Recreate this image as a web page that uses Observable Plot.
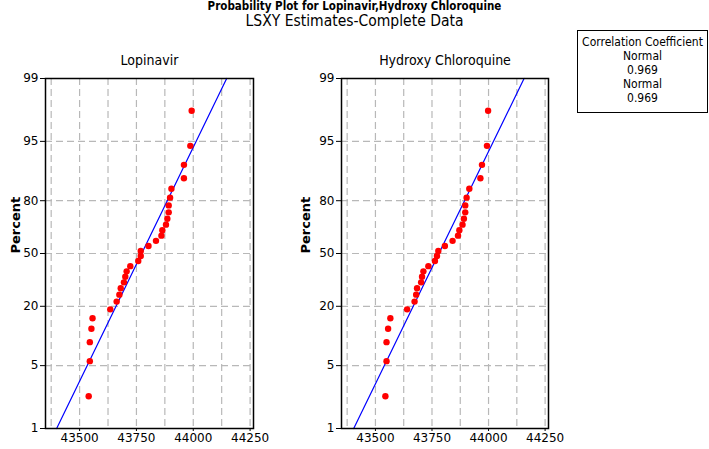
<!DOCTYPE html>
<html>
<head>
<meta charset="utf-8">
<script src="https://cdn.jsdelivr.net/npm/d3@7"></script>
<script src="https://cdn.jsdelivr.net/npm/@observablehq/plot@0.6"></script>
<style>
  html, body { margin: 0; padding: 0; background: #fff; }
  #root { position: relative; width: 709px; height: 449px; overflow: hidden; font-family: "Liberation Sans Narrow", "DejaVu Sans Condensed", sans-serif; }
  .abs { position: absolute; }
  #title { left: 0; width: 709px; top: 0px; text-align: center; font-weight: bold; font-size: 11.5px; line-height: 12px; }
  #subtitle { left: 0; width: 709px; top: 13px; text-align: center; font-size: 15.5px; line-height: 16px; }
  #legend { left: 577px; top: 30px; width: 131px; height: 83px; border: 1px solid #000; text-align: center; font-size: 12px; line-height: 14px; padding-top: 4px; box-sizing: border-box; }
  .panel svg { overflow: visible; }
</style>
</head>
<body>
<div id="root">
  <div id="title" class="abs">Probability Plot for Lopinavir,Hydroxy Chloroquine</div>
  <div id="subtitle" class="abs">LSXY Estimates-Complete Data</div>
  <div id="legend" class="abs">Correlation Coefficient<br>Normal<br>0.969<br>Normal<br>0.969</div>
  <div id="p1" class="abs panel" style="left:0px; top:40px;"></div>
  <div id="p2" class="abs panel" style="left:296px; top:40px;"></div>
</div>
<script>
// Plotting positions (percent), shared by both samples
const percents = [2.30, 5.59, 8.88, 12.17, 15.46, 18.75, 22.04, 25.33, 28.62, 31.91,
  35.20, 38.49, 41.78, 45.07, 48.36, 51.64, 54.93, 58.22, 61.51, 64.80,
  68.09, 71.38, 74.67, 77.96, 81.25, 84.54, 87.83, 91.12, 94.41, 97.70];
// Lopinavir values
const lopinavir = [43540, 43545, 43545, 43552, 43557, 43635, 43663, 43675, 43681, 43695,
  43701, 43707, 43723, 43758, 43769, 43769, 43803, 43836, 43860, 43864,
  43880, 43886, 43892, 43892, 43898, 43904, 43959, 43959, 43987, 43993];
// Hydroxy Chloroquine values
const hcq = [43544, 43549, 43549, 43556, 43566, 43640, 43673, 43680, 43684, 43702,
  43706, 43712, 43734, 43763, 43772, 43778, 43807, 43841, 43865, 43871,
  43885, 43891, 43897, 43897, 43903, 43915, 43964, 43971, 43993, 43998];
// Fitted lines (endpoints at 1% and 99%)
const fitPercents = [1, 99];
const lopinavirFit = [43399, 44147];
const hcqFit = [43404, 44157];
// Axis ticks
const xTicks = [43500, 43750, 44000, 44250];
const xGrid = [43375, 43500, 43625, 43750, 43875, 44000, 44125, 44250];
const yTicks = [1, 5, 20, 50, 80, 95, 99];
const yGrid = [5, 20, 50, 80, 95];
const panelTitles = ["Lopinavir", "Hydroxy Chloroquine"];

const lg = p => Math.log(p / (100 - p)); // probability-paper transform

function panel(title, values, fit, marginRight, percentDx) {
  const pts = values.map((v, i) => ({x: v, p: percents[i]}));
  const line = fit.map((v, i) => ({x: v, p: fitPercents[i]}));
  return Plot.plot({
    width: 300,
    height: 409,
    marginLeft: 45,
    marginRight: marginRight,
    marginTop: 38,
    marginBottom: 21,
    style: {fontFamily: "'DejaVu Sans', sans-serif", fontSize: "12px", color: "#000", background: "transparent", overflow: "visible"},
    x: {domain: [43350, 44265]},
    y: {domain: [lg(1), lg(99)]},
    marks: [
      Plot.gridX(xGrid, {stroke: "#b8b8b8", strokeOpacity: 1, strokeDasharray: "7,4", strokeWidth: 1.2}),
      Plot.gridY(yGrid.map(lg), {stroke: "#b8b8b8", strokeOpacity: 1, strokeDasharray: "7,4", strokeWidth: 1.2}),
      Plot.axisX(xTicks, {tickSize: 3, tickPadding: 2, fontSize: 12, label: null, tickFormat: d => String(d)}),
      Plot.axisY(yTicks.map(lg), {tickSize: 5, tickPadding: 2, fontSize: 12, label: null,
        tickFormat: v => String(Math.round(100 / (1 + Math.exp(-v))))}),
      Plot.line(line, {x: "x", y: d => lg(d.p), stroke: "#0000ff", strokeWidth: 1.2}),
      Plot.dot(pts, {x: "x", y: d => lg(d.p), r: 3.2, fill: "#ff0000", stroke: "none"}),
      Plot.frame({stroke: "#000", strokeWidth: 1.5}),
      Plot.text([title], {frameAnchor: "top", dy: -23, fontSize: 14, fontFamily: "'Liberation Sans Narrow', 'DejaVu Sans Condensed', sans-serif"}),
      Plot.text(["Percent"], {frameAnchor: "left", dx: percentDx, rotate: -90, fontWeight: "bold", fontSize: 13})
    ]
  });
}

document.getElementById("p1").appendChild(panel(panelTitles[0], lopinavir, lopinavirFit, 47, -30));
document.getElementById("p2").appendChild(panel(panelTitles[1], hcq, hcqFit, 48, -36));
</script>
</body>
</html>
